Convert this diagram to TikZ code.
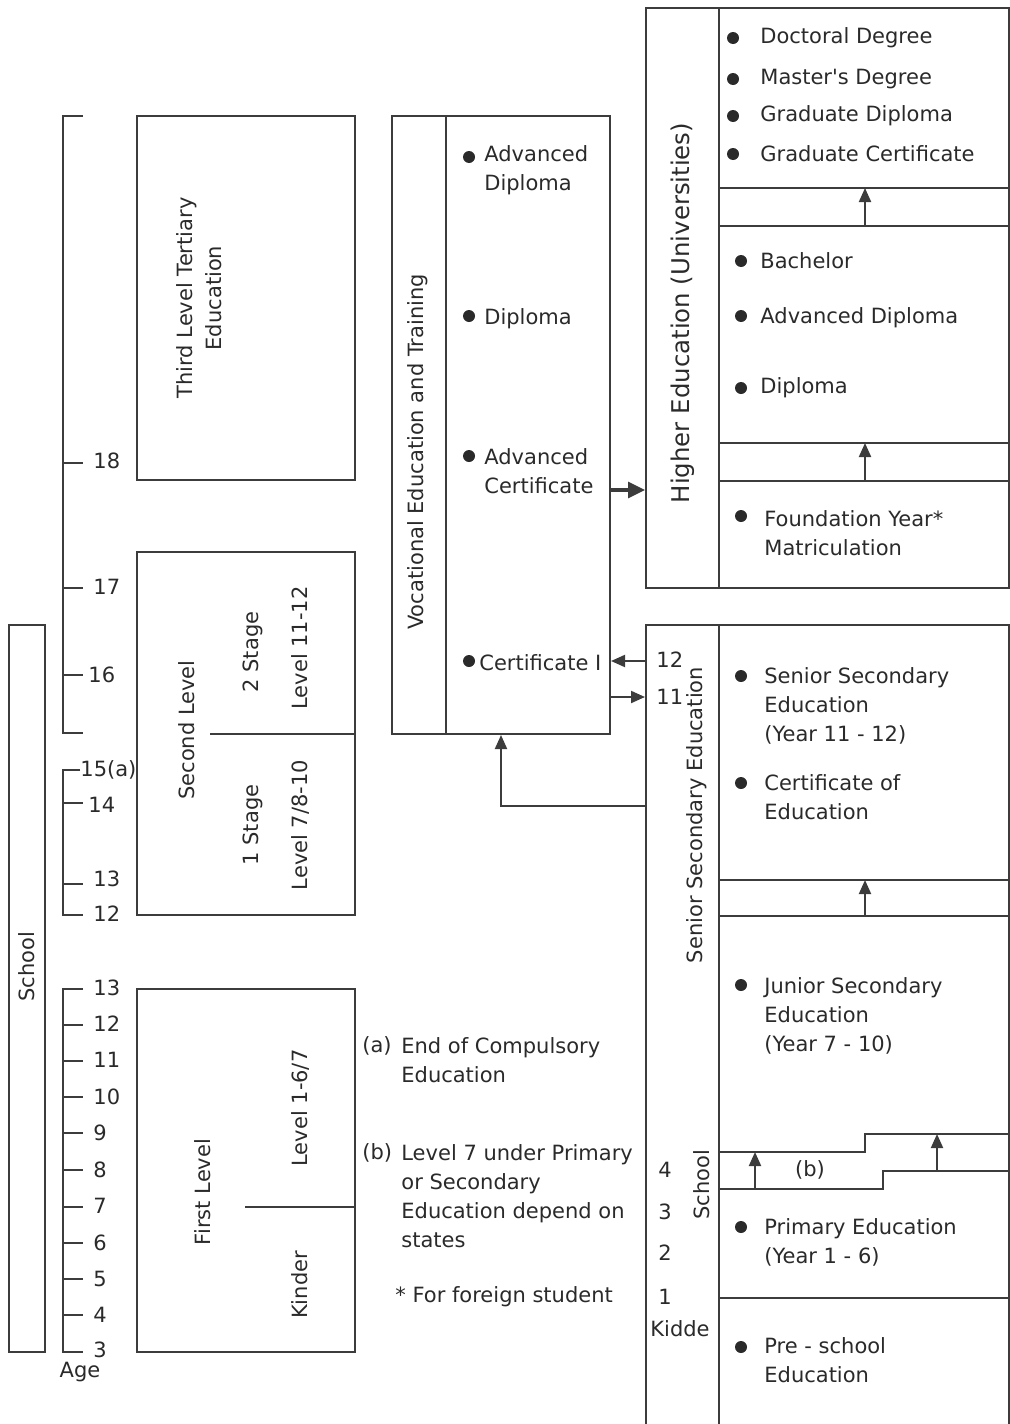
\documentclass[tikz,border=0pt]{standalone}
\usepackage{fontspec}
\setmainfont{DejaVu Sans}
\usetikzlibrary{arrows.meta}
\definecolor{lc}{HTML}{3C3C3C}
\definecolor{tc}{HTML}{2A2A2A}
\begin{document}
\begin{tikzpicture}[x=0.5pt,y=-0.5pt,
  ln/.style={draw=lc,line width=1pt},
  box/.style={draw=lc,line width=1pt,inner sep=0pt,rectangle},
  txt/.style={text=tc,inner sep=0pt,font=\fontsize{10.5}{14.5}\selectfont,align=left},
  rot/.style={txt,rotate=90,align=center},
  bul/.style={circle,fill=tc,inner sep=0pt,minimum size=6pt},
  arr/.style={ln,-{Triangle[length=7pt,width=6pt]}},
  bigarr/.style={draw=lc,line width=1.6pt,-{Triangle[length=8.5pt,width=8pt]}}]
\useasboundingbox (0,0) rectangle (1010,1424);

% ---------- boxes ----------
\node[box,minimum width=18pt,minimum height=363.5pt] (school) at (27,988.5) {};
\node[box,minimum width=109pt,minimum height=182pt] (third) at (246,298) {};
\node[box,minimum width=109pt,minimum height=181.5pt] (second) at (246,733.5) {};
\node[box,minimum width=109pt,minimum height=181.5pt] (first) at (246,1170.5) {};
\node[box,minimum width=109pt,minimum height=309pt] (voc) at (501,425) {};
\node[box,minimum width=181.5pt,minimum height=290pt] (higher) at (827.5,298) {};
\node[box,minimum width=181.5pt,minimum height=401pt] (senior) at (827.5,1025.5) {};

% ---------- age scales ----------
\draw[ln] (83,116) -- (63,116) -- (63,733) -- (83,733);
\foreach \y in {463,588,675} \draw[ln] (63,\y) -- (83,\y);
\node[txt,anchor=west] (a18) at (93,461) {18};
\node[txt,anchor=west] (a17) at (93,587) {17};
\node[txt,anchor=west] (a16) at (88,675) {16};

\draw[ln] (80,770) -- (63,770) -- (63,915) -- (83,915);
\foreach \y in {803,884} \draw[ln] (63,\y) -- (83,\y);
\node[txt,anchor=west] (a15) at (80,770) {15(a)};
\node[txt,anchor=west] (a14) at (88,805) {14};
\node[txt,anchor=west] (a13b) at (93,879) {13};
\node[txt,anchor=west] (a12b) at (93,914) {12};

\draw[ln] (83,989) -- (63,989) -- (63,1352) -- (83,1352);
\foreach \y in {1025,1061,1097,1133,1170,1207,1243,1279,1315} \draw[ln] (63,\y) -- (83,\y);
\node[txt,anchor=west] (b13) at (93,988) {13};
\node[txt,anchor=west] (b12) at (93,1024) {12};
\node[txt,anchor=west] (b11) at (93,1060) {11};
\node[txt,anchor=west] (b10) at (93,1097) {10};
\node[txt,anchor=west] (b9) at (93,1133) {9};
\node[txt,anchor=west] (b8) at (93,1170) {8};
\node[txt,anchor=west] (b7) at (93,1206) {7};
\node[txt,anchor=west] (b6) at (93,1243) {6};
\node[txt,anchor=west] (b5) at (93,1279) {5};
\node[txt,anchor=west] (b4) at (93,1315) {4};
\node[txt,anchor=west] (b3) at (93,1350) {3};
\node[txt] (age) at (80,1372) {Age};

% ---------- left column texts ----------
\node[rot] (schooltxt) at (27,967) {School};
\node[rot] (thirdtxt) at (199,298) {Third Level Tertiary\\Education};
\draw[ln] (210,734) -- (second.east |- 0,734);
\node[rot] (secondtxt) at (187,730) {Second Level};
\node[rot] (st2) at (253,652) {2 Stage};
\node[rot] (lv1112) at (300,648) {Level 11-12};
\node[rot] (st1) at (253,825) {1 Stage};
\node[rot] (lv710) at (300,825) {Level 7/8-10};
\draw[ln] (245,1207) -- (first.east |- 0,1207);
\node[rot] (firsttxt) at (203,1192) {First Level};
\node[rot] (lv16) at (300,1108) {Level 1-6/7};
\node[rot] (kinder) at (300,1285) {Kinder};

% ---------- notes ----------
\node[txt,anchor=west] (na) at (362,1046) {(a)};
\node[txt,anchor=west] (nat) at (401,1060.5) {End of Compulsory\\Education};
\node[txt,anchor=west] (nb) at (362,1153) {(b)};
\node[txt,anchor=west] (nbt) at (401,1196.5) {Level 7 under Primary\\or Secondary\\Education depend on\\states};
\node[txt,anchor=west] (nstar) at (395,1297) {* For foreign student};

% ---------- vocational ----------
\draw[ln] (446,116) -- (446,734);
\node[rot] (voctxt) at (418,452) {Vocational Education and Training};
\node[bul] (vb1) at (469,157) {};
\node[txt,anchor=west] (v1) at (484,170) {Advanced\\Diploma};
\node[bul] (vb2) at (469,316) {};
\node[txt,anchor=west] (v2) at (484,319) {Diploma};
\node[bul] (vb3) at (469,456) {};
\node[txt,anchor=west] (v3) at (484,471) {Advanced\\Certificate};
\node[bul] (vb4) at (469,661) {};
\node[txt,anchor=west] (v4) at (479,663) {Certificate I};

% ---------- higher education ----------
\draw[ln] (719,8) -- (719,588);
\node[rot,font=\fontsize{12.2}{14}\selectfont] (hetxt) at (683,313) {Higher Education (Universities)};
\foreach \y in {188,226,443,481} \draw[ln] (719,\y) -- (higher.east |- 0,\y);
\coordinate (h1a) at (865,226); \coordinate (h1b) at (865,188);
\coordinate (h2a) at (865,481); \coordinate (h2b) at (865,443);
\draw[arr] (h1a) -- (h1b);
\draw[arr] (h2a) -- (h2b);
\node[bul] (hb1) at (733,38) {};
\node[txt,anchor=west] (h1) at (760,38) {Doctoral Degree};
\node[bul] (hb2) at (733,79) {};
\node[txt,anchor=west] (h2) at (760,79) {Master\textquotesingle s Degree};
\node[bul] (hb3) at (733,116) {};
\node[txt,anchor=west] (h3) at (760,116) {Graduate Diploma};
\node[bul] (hb4) at (733,154) {};
\node[txt,anchor=west] (h4) at (760,154) {Graduate Certificate};
\node[bul] (hb5) at (741,261) {};
\node[txt,anchor=west] (h5) at (760,261) {Bachelor};
\node[bul] (hb6) at (741,316) {};
\node[txt,anchor=west] (h6) at (760,318) {Advanced Diploma};
\node[bul] (hb7) at (741,388) {};
\node[txt,anchor=west] (h7) at (760,388) {Diploma};
\node[bul] (hb8) at (741,516) {};
\node[txt,anchor=west] (h8) at (764,533) {Foundation Year*\\Matriculation};

% ---------- senior secondary ----------
\draw[ln] (719,625) -- (719,1426);
\node[rot] (sstxt) at (697,815) {Senior Secondary Education};
\node[rot] (school2) at (702,1185) {School};
\node[txt,anchor=west] (n12) at (656,660) {12};
\node[txt,anchor=west] (n11) at (656,697) {11};
\node[txt] (n4) at (665,1170) {4};
\node[txt] (n3) at (665,1212) {3};
\node[txt] (n2) at (665,1253) {2};
\node[txt] (n1) at (665,1297) {1};
\node[txt] (kidde) at (680,1329) {Kidde};
\draw[ln] (719,880) -- (senior.east |- 0,880);
\draw[ln] (719,916) -- (senior.east |- 0,916);
\coordinate (s1a) at (865,916); \coordinate (s1b) at (865,880);
\draw[arr] (s1a) -- (s1b);
\draw[ln] (719,1152) -- (865,1152) -- (865,1134) -- (senior.east |- 0,1134);
\draw[ln] (719,1189) -- (883,1189) -- (883,1171) -- (senior.east |- 0,1171);
\coordinate (s2a) at (755,1189); \coordinate (s2b) at (755,1152);
\coordinate (s3a) at (937,1171); \coordinate (s3b) at (937,1134);
\draw[arr] (s2a) -- (s2b);
\draw[arr] (s3a) -- (s3b);
\node[txt] (bl) at (810,1170) {(b)};
\draw[ln] (719,1298) -- (senior.east |- 0,1298);
\node[bul] (sb1) at (741,676) {};
\node[txt,anchor=west] (s1) at (764,706) {Senior Secondary\\Education\\(Year 11 - 12)};
\node[bul] (sb2) at (741,783) {};
\node[txt,anchor=west] (s2) at (764,797.5) {Certificate of\\Education};
\node[bul] (sb3) at (741,985) {};
\node[txt,anchor=west] (s3) at (764,1016) {Junior Secondary\\Education\\(Year 7 - 10)};
\node[bul] (sb4) at (741,1227) {};
\node[txt,anchor=west] (s4) at (764,1242.5) {Primary Education\\(Year 1 - 6)};
\node[bul] (sb5) at (741,1347) {};
\node[txt,anchor=west] (s5) at (764,1360.5) {Pre - school\\Education};

% ---------- connectors between columns ----------
\coordinate (yvh) at (0,490);
\coordinate (y12) at (0,661);
\coordinate (y11) at (0,697);
\coordinate (yup) at (0,806);
\draw[bigarr] (voc.east |- yvh) -- (higher.west |- yvh);
\draw[arr] (senior.west |- y12) -- (voc.east |- y12);
\draw[arr] (voc.east |- y11) -- (senior.west |- y11);
\draw[arr] (senior.west |- yup) -| (voc.south);
\end{tikzpicture}
\end{document}
